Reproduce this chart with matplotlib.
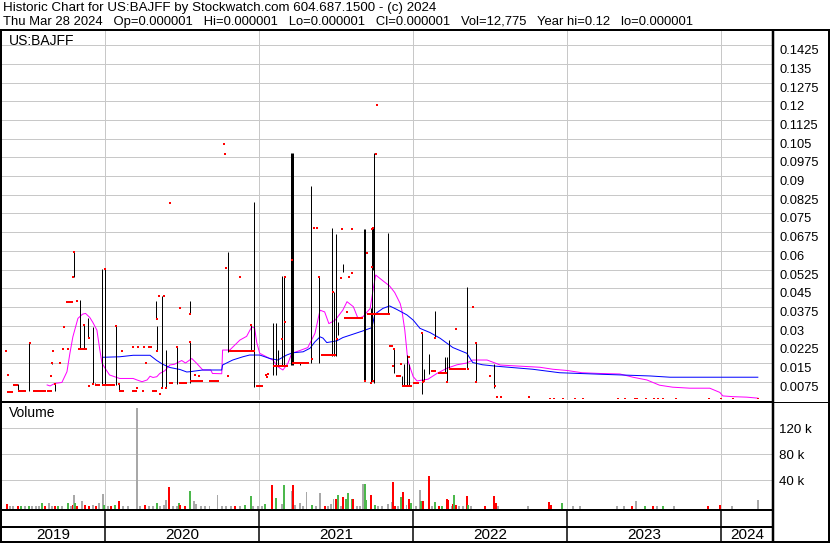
import numpy as np
import pandas as pd
import matplotlib
matplotlib.use('Agg')
import matplotlib.pyplot as plt
import matplotlib.dates as mdates
from matplotlib.lines import Line2D

plt.rcParams['font.family'] = ['Liberation Sans', 'DejaVu Sans']

# ---- header ----
title_line = "Historic Chart for US:BAJFF by Stockwatch.com 604.687.1500 - (c) 2024"
info_line = ("Thu Mar 28 2024   Op=0.000001   Hi=0.000001   Lo=0.000001   "
             "Cl=0.000001   Vol=12,775   Year hi=0.12   lo=0.000001")
symbol = "US:BAJFF"

date_from = "2019-05-02"
date_to = "2024-05-03"
year_starts = ["2020-01-01", "2021-01-01", "2022-01-01", "2023-01-01", "2024-01-01"]
year_labels = ["2019", "2020", "2021", "2022", "2023", "2024"]

price_ticks = [0.0075, 0.015, 0.0225, 0.03, 0.0375, 0.045, 0.0525, 0.06, 0.0675, 0.075,
               0.0825, 0.09, 0.0975, 0.105, 0.1125, 0.12, 0.1275, 0.135, 0.1425]
vol_ticks = [40000, 80000, 120000]
vol_tick_labels = ["40 k", "80 k", "120 k"]

# ---- high / low ranges ----
bar_dates = ["2019-06-08", "2019-07-06", "2019-08-29", "2019-09-04", "2019-10-19", "2019-11-04",
             "2019-11-12", "2019-11-21", "2019-12-03", "2019-12-08", "2019-12-24", "2020-01-01",
             "2020-01-27", "2020-02-03", "2020-05-02", "2020-05-04", "2020-05-15", "2020-05-24",
             "2020-06-20", "2020-07-20", "2020-07-21", "2020-10-20", "2020-12-13", "2020-12-20",
             "2021-02-02", "2021-02-09", "2021-02-14", "2021-02-24", "2021-02-28", "2021-03-17",
             "2021-03-19", "2021-03-21", "2021-04-07", "2021-05-03", "2021-05-22", "2021-05-23",
             "2021-06-23", "2021-06-28", "2021-07-02", "2021-07-07", "2021-07-18", "2021-09-07",
             "2021-09-09", "2021-09-23", "2021-09-25", "2021-09-27", "2021-09-30", "2021-11-02",
             "2021-11-16", "2021-12-05", "2021-12-10", "2021-12-17", "2021-12-22", "2022-01-22",
             "2022-01-27", "2022-02-08", "2022-02-22", "2022-03-17", "2022-03-22", "2022-03-27",
             "2022-05-08", "2022-05-29", "2022-07-12"]
bar_high = [0.0064, 0.0231, 0.0155, 0.0066, 0.0594, 0.0401,
            0.0302, 0.0329, 0.0296, 0.0068, 0.0526, 0.0526,
            0.0297, 0.0066, 0.0399, 0.0297, 0.0419, 0.0202,
            0.0215, 0.0235, 0.0399, 0.0594, 0.0304, 0.0797,
            0.0311, 0.0311, 0.0202, 0.0499, 0.0499, 0.0993,
            0.0993, 0.0993, 0.0153, 0.0860, 0.0496, 0.0496,
            0.0690, 0.0436, 0.0666, 0.0316, 0.0546, 0.0687,
            0.0687, 0.0369, 0.0687, 0.0690, 0.0991, 0.0670,
            0.0209, 0.0099, 0.0146, 0.0181, 0.0146, 0.0269,
            0.0125, 0.0185, 0.0358, 0.0175, 0.0175, 0.0242,
            0.0456, 0.0229, 0.0146]
bar_low = [0.0037, 0.0036, 0.0145, 0.0036, 0.0496, 0.0207,
           0.0207, 0.0249, 0.0066, 0.0063, 0.0063, 0.0063,
           0.0063, 0.0036, 0.0326, 0.0200, 0.0051, 0.0051,
           0.0066, 0.0071, 0.0346, 0.0195, 0.0200, 0.0055,
           0.0103, 0.0103, 0.0138, 0.0138, 0.0138, 0.0142,
           0.0142, 0.0142, 0.0142, 0.0150, 0.0150, 0.0443,
           0.0180, 0.0180, 0.0180, 0.0262, 0.0516, 0.0079,
           0.0079, 0.0069, 0.0079, 0.0523, 0.0069, 0.0346,
           0.0109, 0.0058, 0.0058, 0.0058, 0.0058, 0.0026,
           0.0077, 0.0105, 0.0249, 0.0115, 0.0075, 0.0125,
           0.0127, 0.0075, 0.0051]

# ---- closes held flat over a stretch ----
flat_start = ["2019-05-13", "2019-05-28", "2019-06-08", "2019-07-14", "2019-08-17", "2019-09-30",
              "2019-10-29", "2019-12-08", "2019-12-24", "2020-02-03", "2020-03-05", "2020-04-12",
              "2020-04-22", "2020-06-01", "2020-06-25", "2020-07-20", "2020-09-03", "2020-10-21",
              "2020-12-24", "2021-02-02", "2021-03-19", "2021-05-28", "2021-07-21", "2021-09-13",
              "2021-11-05", "2021-11-21", "2021-12-05", "2022-01-01", "2022-02-12", "2022-03-01",
              "2022-03-27"]
flat_end = ["2019-05-28", "2019-06-08", "2019-06-27", "2019-08-14", "2019-08-28", "2019-10-17",
            "2019-11-19", "2019-12-20", "2020-01-24", "2020-02-15", "2020-03-17", "2020-04-22",
            "2020-05-03", "2020-06-10", "2020-07-14", "2020-08-20", "2020-09-28", "2020-12-22",
            "2021-01-09", "2021-03-10", "2021-04-29", "2021-07-01", "2021-09-03", "2021-11-07",
            "2021-11-14", "2021-12-03", "2021-12-29", "2022-01-15", "2022-02-24", "2022-03-21",
            "2022-05-05"]
flat_price = [0.0035, 0.0062, 0.0036, 0.0036, 0.0036, 0.0396,
              0.0207, 0.0063, 0.0063, 0.0036, 0.0036, 0.0215,
              0.0036, 0.0071, 0.0071, 0.0077, 0.0077, 0.0200,
              0.0057, 0.0138, 0.0149, 0.0182, 0.0332, 0.0347,
              0.0218, 0.0099, 0.0058, 0.0071, 0.0119, 0.0111,
              0.0125]

# ---- single closes ----
close_dates = ["2019-05-11", "2019-05-16", "2019-07-07", "2019-08-27", "2019-08-29", "2019-09-01",
               "2019-09-04", "2019-09-16", "2019-09-23", "2019-09-26", "2019-10-05", "2019-10-17",
               "2019-10-19", "2019-10-27", "2019-11-12", "2019-11-24", "2019-11-25", "2019-12-03",
               "2020-01-01", "2020-01-27", "2020-02-03", "2020-02-10", "2020-03-08", "2020-03-17",
               "2020-03-19", "2020-03-31", "2020-04-02", "2020-04-07", "2020-05-03", "2020-05-04",
               "2020-05-08", "2020-05-10", "2020-05-15", "2020-05-20", "2020-05-24", "2020-06-03",
               "2020-06-20", "2020-06-27", "2020-07-20", "2020-07-21", "2020-08-02", "2020-08-11",
               "2020-10-10", "2020-10-11", "2020-10-13", "2020-10-20", "2020-11-16", "2020-12-13",
               "2021-01-16", "2021-01-19", "2021-01-21", "2021-02-25", "2021-03-03", "2021-03-04",
               "2021-03-19", "2021-05-05", "2021-05-10", "2021-05-19", "2021-05-22", "2021-06-25",
               "2021-07-04", "2021-07-13", "2021-07-17", "2021-07-28", "2021-08-01", "2021-08-08",
               "2021-08-10", "2021-09-08", "2021-09-13", "2021-09-23", "2021-09-25", "2021-09-26",
               "2021-09-27", "2021-09-28", "2021-10-05", "2021-10-06", "2021-11-15", "2021-11-16",
               "2021-12-03", "2021-12-22", "2022-01-22", "2022-01-23", "2022-01-27", "2022-02-22",
               "2022-03-22", "2022-04-12", "2022-05-12", "2022-05-23", "2022-05-29", "2022-05-30",
               "2022-07-02", "2022-07-14", "2022-07-18", "2022-07-28", "2022-10-02", "2022-11-21",
               "2022-11-30", "2022-12-22", "2023-01-19", "2023-02-07", "2023-05-02", "2023-05-18",
               "2023-06-11", "2023-06-15", "2023-07-07", "2023-07-26", "2023-08-04", "2023-08-16",
               "2023-09-16", "2023-12-03", "2024-01-01", "2024-01-29", "2024-03-28"]
close_vals = [0.0200, 0.0100, 0.0230, 0.0099, 0.0149, 0.0200,
              0.0066, 0.0150, 0.0207, 0.0296, 0.0207, 0.0496,
              0.0594, 0.0398, 0.0302, 0.0249, 0.0059, 0.0066,
              0.0526, 0.0297, 0.0066, 0.0200, 0.0215, 0.0051,
              0.0215, 0.0036, 0.0215, 0.0149, 0.0326, 0.0200,
              0.0419, 0.0027, 0.0051, 0.0419, 0.0051, 0.0793,
              0.0215, 0.0372, 0.0235, 0.0346, 0.0102, 0.0098,
              0.1028, 0.0988, 0.0532, 0.0099, 0.0496, 0.0304,
              0.0100, 0.0095, 0.0105, 0.0246, 0.0316, 0.0496,
              0.0563, 0.0166, 0.0693, 0.0693, 0.0496, 0.0436,
              0.0247, 0.0491, 0.0687, 0.0356, 0.0496, 0.0687,
              0.0512, 0.0079, 0.0590, 0.0069, 0.0537, 0.0687,
              0.0690, 0.0079, 0.0990, 0.1185, 0.0138, 0.0206,
              0.0146, 0.0175, 0.0269, 0.0073, 0.0077, 0.0249,
              0.0075, 0.0286, 0.0127, 0.0376, 0.0229, 0.0075,
              0.0099, 0.0057, 0.0015, 0.0015, 0.0012, 0.000001,
              0.000001, 0.000001, 0.000001, 0.000001, 0.000001, 0.000001,
              0.000001, 0.000001, 0.000001, 0.000001, 0.000001, 0.000001,
              0.000001, 0.000001, 0.000001, 0.000001, 0.000001]

# ---- moving averages ----
ma20_dates = ["2019-08-17", "2019-08-24", "2019-09-04", "2019-09-21", "2019-10-03", "2019-10-10",
              "2019-10-17", "2019-10-29", "2019-11-09", "2019-11-16", "2019-11-26", "2019-12-03",
              "2019-12-13", "2019-12-20", "2019-12-25", "2020-01-01", "2020-01-12", "2020-01-24",
              "2020-02-05", "2020-03-08", "2020-03-17", "2020-03-29", "2020-04-10", "2020-04-17",
              "2020-04-24", "2020-05-03", "2020-05-10", "2020-05-22", "2020-06-03", "2020-06-14",
              "2020-07-01", "2020-07-10", "2020-07-25", "2020-08-06", "2020-08-20", "2020-09-08",
              "2020-09-12", "2020-10-04", "2020-10-06", "2020-10-23", "2020-11-16", "2020-12-02",
              "2020-12-14", "2020-12-21", "2020-12-26", "2021-01-02", "2021-01-18", "2021-02-02",
              "2021-02-14", "2021-02-26", "2021-03-10", "2021-03-19", "2021-04-07", "2021-04-26",
              "2021-05-13", "2021-05-25", "2021-06-05", "2021-06-15", "2021-06-30", "2021-07-18",
              "2021-07-28", "2021-08-12", "2021-08-23", "2021-09-04", "2021-09-21", "2021-09-27",
              "2021-10-04", "2021-10-21", "2021-11-06", "2021-11-18", "2021-12-01", "2021-12-05",
              "2021-12-12", "2021-12-19", "2021-12-24", "2022-01-01", "2022-01-10", "2022-01-17",
              "2022-02-05", "2022-02-27", "2022-03-22", "2022-04-15", "2022-05-08", "2022-05-22",
              "2022-06-25", "2022-07-14", "2022-07-26", "2022-09-04", "2022-10-28", "2022-11-28",
              "2023-01-01", "2023-02-05", "2023-03-20", "2023-05-06", "2023-06-06", "2023-07-09",
              "2023-08-08", "2023-09-08", "2023-10-19", "2023-12-05", "2023-12-29", "2024-01-05",
              "2024-01-29", "2024-03-02", "2024-03-28"]
ma20_vals = [0.0062, 0.0058, 0.0068, 0.0072, 0.0115, 0.0189,
             0.0255, 0.0329, 0.0346, 0.0349, 0.0333, 0.0314,
             0.0282, 0.0202, 0.0150, 0.0130, 0.0102, 0.0095,
             0.0088, 0.0088, 0.0082, 0.0075, 0.0082, 0.0097,
             0.0092, 0.0095, 0.0108, 0.0119, 0.0142, 0.0145,
             0.0160, 0.0150, 0.0168, 0.0148, 0.0122, 0.0122,
             0.0108, 0.0107, 0.0202, 0.0202, 0.0242, 0.0257,
             0.0295, 0.0290, 0.0232, 0.0189, 0.0175, 0.0162,
             0.0135, 0.0122, 0.0149, 0.0189, 0.0200, 0.0212,
             0.0269, 0.0362, 0.0355, 0.0308, 0.0322, 0.0362,
             0.0396, 0.0376, 0.0329, 0.0336, 0.0369, 0.0436,
             0.0503, 0.0480, 0.0459, 0.0433, 0.0389, 0.0362,
             0.0282, 0.0162, 0.0135, 0.0095, 0.0078, 0.0080,
             0.0085, 0.0109, 0.0129, 0.0143, 0.0150, 0.0162,
             0.0162, 0.0150, 0.0142, 0.0138, 0.0133, 0.0125,
             0.0120, 0.0111, 0.0108, 0.0106, 0.0093, 0.0082,
             0.0061, 0.0053, 0.0049, 0.0049, 0.0032, 0.0018,
             0.0015, 0.0013, 0.0009]

ma50_dates = ["2019-12-27", "2020-02-05", "2020-03-08", "2020-04-17", "2020-05-03", "2020-05-17",
              "2020-06-03", "2020-06-27", "2020-07-13", "2020-07-20", "2020-08-20", "2020-10-04",
              "2020-10-06", "2020-10-30", "2020-11-23", "2020-12-09", "2021-01-02", "2021-01-26",
              "2021-02-14", "2021-03-07", "2021-03-21", "2021-04-15", "2021-05-01", "2021-05-13",
              "2021-05-25", "2021-06-01", "2021-06-10", "2021-07-04", "2021-07-18", "2021-08-12",
              "2021-09-04", "2021-09-25", "2021-10-02", "2021-10-21", "2021-11-06", "2021-11-23",
              "2021-12-17", "2022-01-01", "2022-01-17", "2022-02-10", "2022-03-06", "2022-04-05",
              "2022-05-08", "2022-05-22", "2022-06-14", "2022-07-18", "2022-10-11", "2022-12-14",
              "2023-03-20", "2023-07-17", "2023-09-02", "2024-03-28"]
ma50_vals = [0.0173, 0.0175, 0.0181, 0.0181, 0.0160, 0.0145,
             0.0132, 0.0124, 0.0114, 0.0115, 0.0122, 0.0122,
             0.0142, 0.0162, 0.0175, 0.0182, 0.0182, 0.0168,
             0.0162, 0.0182, 0.0191, 0.0195, 0.0209, 0.0235,
             0.0255, 0.0250, 0.0232, 0.0239, 0.0252, 0.0266,
             0.0279, 0.0292, 0.0346, 0.0369, 0.0379, 0.0365,
             0.0343, 0.0322, 0.0289, 0.0272, 0.0249, 0.0212,
             0.0189, 0.0152, 0.0143, 0.0137, 0.0125, 0.0111,
             0.0105, 0.0098, 0.0093, 0.0093]

# ---- volume (r = down, g = up, n = unchanged) ----
vol_dates = ["2019-05-14", "2019-05-20", "2019-05-27", "2019-06-08", "2019-06-15", "2019-06-25",
             "2019-07-05", "2019-07-12", "2019-07-21", "2019-07-28", "2019-08-04", "2019-08-12",
             "2019-08-21", "2019-08-28", "2019-09-04", "2019-09-11", "2019-09-22", "2019-10-05",
             "2019-10-12", "2019-10-17", "2019-10-19", "2019-10-21", "2019-10-27", "2019-11-07",
             "2019-11-14", "2019-11-24", "2019-12-03", "2019-12-10", "2019-12-17", "2019-12-27",
             "2019-12-29", "2020-01-08", "2020-01-16", "2020-01-24", "2020-02-03", "2020-02-12",
             "2020-02-25", "2020-03-17", "2020-03-24", "2020-04-05", "2020-04-15", "2020-04-25",
             "2020-05-03", "2020-05-10", "2020-05-20", "2020-05-24", "2020-06-01", "2020-06-10",
             "2020-06-20", "2020-06-25", "2020-06-27", "2020-07-08", "2020-07-20", "2020-07-30",
             "2020-08-05", "2020-08-15", "2020-08-25", "2020-09-05", "2020-09-24", "2020-10-04",
             "2020-10-14", "2020-10-25", "2020-11-05", "2020-11-16", "2020-11-28", "2020-12-12",
             "2020-12-18", "2020-12-28", "2021-01-08", "2021-01-15", "2021-01-31", "2021-02-09",
             "2021-02-24", "2021-03-01", "2021-03-19", "2021-03-21", "2021-03-27", "2021-04-07",
             "2021-04-14", "2021-04-23", "2021-05-05", "2021-05-15", "2021-05-25", "2021-06-05",
             "2021-06-12", "2021-06-19", "2021-06-26", "2021-07-01", "2021-07-07", "2021-07-13",
             "2021-07-18", "2021-07-25", "2021-07-30", "2021-08-08", "2021-08-12", "2021-08-20",
             "2021-08-27", "2021-09-03", "2021-09-08", "2021-09-11", "2021-09-23", "2021-10-02",
             "2021-10-10", "2021-10-20", "2021-11-02", "2021-11-12", "2021-11-14", "2021-11-18",
             "2021-11-27", "2021-12-04", "2021-12-07", "2021-12-16", "2021-12-22", "2021-12-26",
             "2022-01-08", "2022-01-17", "2022-01-19", "2022-01-24", "2022-02-07", "2022-02-14",
             "2022-02-22", "2022-03-03", "2022-03-10", "2022-03-22", "2022-03-25", "2022-04-02",
             "2022-04-05", "2022-04-07", "2022-04-12", "2022-04-20", "2022-04-28", "2022-05-08",
             "2022-05-10", "2022-05-18", "2022-06-20", "2022-07-12", "2022-07-16", "2022-07-22",
             "2022-09-30", "2022-11-19", "2022-11-23", "2022-12-19", "2023-01-15", "2023-02-01",
             "2023-04-29", "2023-05-16", "2023-06-04", "2023-06-13", "2023-07-05", "2023-07-24",
             "2023-08-03", "2023-08-16", "2023-09-11", "2023-12-01", "2023-12-29", "2024-01-27",
             "2024-03-28"]
vol_vals = [3500, 300, 300, 1000, 300, 300,
            700, 300, 500, 300, 4500, 300,
            4500, 300, 600, 1000, 300, 5700,
            300, 1500, 17000, 5000, 1000, 7700,
            1500, 700, 2000, 500, 5000, 18500,
            2000, 300, 1000, 2000, 7700, 300,
            300, 150700, 300, 2000, 300, 300,
            5700, 300, 1500, 9000, 29700, 300,
            300, 5700, 2000, 1000, 23500, 8200,
            3000, 300, 300, 300, 17000, 300,
            300, 1000, 300, 500, 1500, 15400,
            1000, 300, 300, 3000, 32800, 12300,
            3000, 32800, 23500, 32800, 1500, 4500,
            300, 22000, 1500, 300, 20500, 300,
            300, 3000, 12000, 12000, 17000, 300,
            14000, 12000, 21000, 12000, 12000, 300,
            300, 33800, 34300, 9000, 17000, 2000,
            300, 300, 3000, 7000, 37400, 1000,
            300, 15000, 22000, 1500, 11000, 5000,
            300, 25000, 7700, 7700, 46600, 300,
            6000, 500, 500, 12000, 10000, 1000,
            4000, 17000, 1500, 300, 300, 15400,
            2000, 300, 300, 15400, 4500, 300,
            1000, 6700, 2000, 5000, 500, 500,
            1000, 500, 500, 7700, 500, 500,
            1000, 500, 500, 500, 2000, 1000,
            10000]
vol_dir = ["r", "n", "n", "r", "g", "n",
           "g", "n", "n", "n", "g", "r",
           "n", "n", "r", "g", "n", "g",
           "n", "r", "n", "g", "r", "n",
           "r", "r", "n", "r", "n", "n",
           "g", "n", "r", "g", "r", "n",
           "n", "n", "n", "r", "n", "n",
           "g", "n", "n", "n", "r", "n",
           "n", "g", "r", "r", "g", "n",
           "n", "n", "n", "n", "n", "n",
           "n", "n", "r", "n", "g", "g",
           "n", "n", "n", "g", "r", "g",
           "n", "g", "n", "r", "n", "n",
           "n", "n", "g", "n", "n", "r",
           "n", "n", "n", "r", "g", "n",
           "r", "g", "g", "g", "r", "n",
           "n", "n", "g", "g", "r", "g",
           "n", "n", "n", "n", "r", "r",
           "n", "g", "r", "n", "r", "g",
           "n", "n", "g", "r", "r", "n",
           "g", "r", "g", "r", "r", "n",
           "r", "g", "r", "n", "n", "r",
           "g", "n", "r", "r", "r", "n",
           "n", "r", "r", "g", "n", "n",
           "n", "n", "r", "n", "g", "r",
           "n", "g", "n", "r", "r", "n",
           "n"]
dir_colors = {"r": "#ff0000", "g": "#4cb84c", "n": "#a8a8a8"}

# ---------------------------------------------------------------
W, H = 830, 543
PX = 0.72  # points per pixel at dpi 100


def dn(s):
    return mdates.date2num(pd.to_datetime(s))


def px_axes(x0, y0, x1, y1):
    return fig.add_axes([x0 / W, 1 - y1 / H, (x1 - x0) / W, (y1 - y0) / H])


def fig_line(x0, y0, x1, y1, lw):
    fig.add_artist(Line2D([x0 / W, x1 / W], [1 - y0 / H, 1 - y1 / H],
                          transform=fig.transFigure, color='black',
                          lw=lw * PX, solid_capstyle='butt', zorder=10))


fig = plt.figure(figsize=(W / 100, H / 100), dpi=100, facecolor='white')
xlim = (dn(date_from), dn(date_to))
grid_kw = dict(color='#c8c8c8', lw=1.0 * PX)

# price panel
ax = px_axes(2, 31, 773, 400.4)
ax.set_xlim(*xlim)
ax.set_ylim(0, 0.1482)
ax.set_yticks(price_ticks)
ax.set_yticklabels(['{:g}'.format(v) for v in price_ticks])
ax.yaxis.tick_right()
ax.tick_params(axis='y', length=0, pad=6 * PX, labelsize=9.3)
for lbl in ax.get_yticklabels():
    lbl.set_va('top')
ax.set_xticks([dn(d) for d in year_starts])
ax.tick_params(axis='x', length=0, labelbottom=False)
ax.grid(True, **grid_kw)
ax.set_axisbelow(True)
for s in ax.spines.values():
    s.set_visible(False)

ax.plot([dn(d) for d in ma20_dates], ma20_vals, color='#ff00ff', lw=1.0 * PX, zorder=2)
ax.plot([dn(d) for d in ma50_dates], ma50_vals, color='#0000ff', lw=1.0 * PX, zorder=2)
ax.vlines([dn(d) for d in bar_dates], bar_low, bar_high, color='black', lw=1.0 * PX, zorder=3)
ax.hlines(flat_price, [dn(d) for d in flat_start], [dn(d) for d in flat_end],
          color='#ff0000', lw=2.0 * PX, zorder=4)

cx = np.array([dn(d) for d in close_dates])
cv = np.array(close_vals)
low = cv < 0.001
# ticks at the floor sit on top of the price (square above the point)
ax.plot(cx[~low], cv[~low], 's', color='#ff0000', ms=2.2 * PX, mew=0, zorder=4)
ax.plot(cx[low], cv[low], marker=[(-1, 0.6), (1, 0.6), (1, 2), (-1, 2)], ls='none',
        color='#ff0000', ms=4.4 * PX, mew=0, zorder=4, clip_on=False)

# volume panel
axv = px_axes(2, 402.5, 773, 509.5)
axv.set_xlim(*xlim)
axv.set_ylim(-4900, 159700)
base = axv.get_ylim()[0]
vv = np.array(vol_vals, dtype=float)
axv.bar([dn(d) for d in vol_dates], vv - base, bottom=base, width=4.6,
        color=[dir_colors[c] for c in vol_dir], linewidth=0, zorder=3)
axv.set_yticks(vol_ticks)
axv.set_yticklabels(vol_tick_labels)
axv.yaxis.tick_right()
axv.tick_params(axis='y', length=0, pad=6 * PX, labelsize=9.6)
axv.set_xticks([dn(d) for d in year_starts])
axv.tick_params(axis='x', length=0, labelbottom=False)
axv.grid(True, **grid_kw)
axv.set_axisbelow(True)
for s in axv.spines.values():
    s.set_visible(False)

# date strip
axd = px_axes(2, 510, 773, 542)
axd.set_xlim(*xlim)
axd.set_ylim(0, 1)
axd.axis('off')
for d in year_starts:
    axd.axvline(dn(d), color='black', lw=1.5 * PX)
edges = [xlim[0]] + [dn(d) for d in year_starts] + [xlim[1]]
for i, lab in enumerate(year_labels):
    axd.text((edges[i] + edges[i + 1]) / 2, 0.22, lab, ha='center', va='center', fontsize=11)

# frame lines
fig_line(0, 30, W, 30, 2)
fig_line(1, 30, 1, H, 2)
fig_line(773, 30, 773, H, 2.5)
fig_line(828.5, 30, 828.5, H, 2)
fig_line(0, 542, W, 542, 2)
fig_line(0, 400.6, 773, 400.6, 1)
fig_line(0, 402.4, W, 402.4, 1)
fig_line(0, 510, 773, 510, 2)
fig_line(0, 526.7, 773, 526.7, 2)

# texts
fig.text(3 / W, 1 - 7.5 / H, title_line, fontsize=9.6, va='center', ha='left')
fig.text(3 / W, 1 - 21.5 / H, info_line, fontsize=9.35, va='center', ha='left')
fig.text(9 / W, 1 - 41 / H, symbol, fontsize=10, va='center', ha='left')
fig.text(9 / W, 1 - 413 / H, "Volume", fontsize=10, va='center', ha='left')

fig.savefig('out.png', dpi=100, facecolor='white')
